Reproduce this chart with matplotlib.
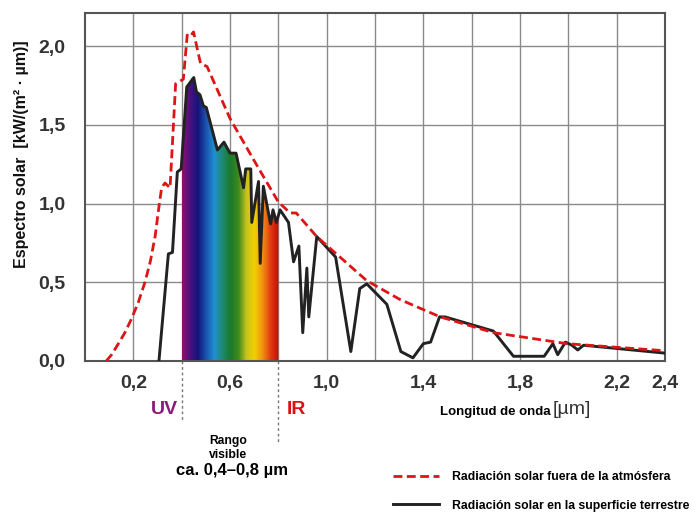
import numpy as np
import matplotlib
matplotlib.use("Agg")
import matplotlib.pyplot as plt
from matplotlib.colors import LinearSegmentedColormap

# ---- data ----
wl_space = [0.088, 0.110, 0.138, 0.165, 0.193, 0.220, 0.248, 0.270, 0.290, 0.306, 0.317,
            0.331, 0.352, 0.375, 0.407, 0.423, 0.435, 0.449, 0.478, 0.505, 0.600,
            0.697, 0.800, 0.849, 0.874, 0.959, 1.166, 1.304, 1.470, 1.690, 1.995, 2.400]
val_space = [0.0, 0.04, 0.11, 0.18, 0.27, 0.37, 0.50, 0.63, 0.79, 0.98, 1.10,
             1.13, 1.10, 1.76, 1.79, 2.07, 2.06, 2.09, 1.89, 1.87, 1.54,
             1.28, 1.01, 0.94, 0.94, 0.79, 0.51, 0.39, 0.28, 0.18, 0.11, 0.065]

wl_ground = [0.306, 0.345, 0.362, 0.382, 0.398, 0.421, 0.450, 0.461, 0.476, 0.490,
             0.502, 0.548, 0.575, 0.600, 0.625, 0.656, 0.665, 0.686, 0.690, 0.718,
             0.725, 0.738, 0.768, 0.778, 0.792, 0.807, 0.842, 0.863, 0.885, 0.901,
             0.918, 0.926, 0.959, 1.037, 1.100, 1.137, 1.166, 1.249, 1.307, 1.357,
             1.400, 1.430, 1.467, 1.490, 1.690, 1.773, 1.900, 1.936, 1.956, 1.988,
             2.015, 2.039, 2.063, 2.400]
val_ground = [0.0, 0.68, 0.69, 1.20, 1.22, 1.74, 1.80, 1.71, 1.69, 1.62,
              1.61, 1.34, 1.39, 1.32, 1.32, 1.10, 1.22, 1.22, 0.88, 1.14,
              0.62, 1.11, 0.87, 0.96, 0.88, 0.96, 0.88, 0.63, 0.73, 0.18,
              0.59, 0.28, 0.79, 0.66, 0.06, 0.46, 0.49, 0.36, 0.06, 0.02,
              0.11, 0.12, 0.28, 0.28, 0.19, 0.03, 0.03, 0.11, 0.04, 0.12,
              0.10, 0.07, 0.10, 0.05]

xtick_pos = [0.2, 0.6, 1.0, 1.4, 1.8, 2.2, 2.4]
xtick_lab = ["0,2", "0,6", "1,0", "1,4", "1,8", "2,2", "2,4"]
ytick_pos = [0.0, 0.5, 1.0, 1.5, 2.0]
ytick_lab = ["0,0", "0,5", "1,0", "1,5", "2,0"]
visible_range = (0.4, 0.8)

spec_colors = ["#8c1070", "#4a1080", "#14157a", "#1a55b0", "#2090d2", "#1e8a70",
               "#1a7a2c", "#3f8a1e", "#c8c41c", "#f2d000", "#f09010", "#e03a10", "#c80a0a"]

FONT = ["Liberation Sans", "DejaVu Sans"]
plt.rcParams['font.family'] = FONT

fig = plt.figure(figsize=(7.0, 5.12), dpi=100)
ax = fig.add_axes([85/700, 1-361/512, 580/700, 348/512])
ax.set_xlim(0, 2.4)
ax.set_ylim(0, 2.21)

# grid
for gx in np.arange(0.2, 2.4, 0.2):
    ax.axvline(gx, color="#8a8a8a", lw=1.0, zorder=1)
for gy in [0.5, 1.0, 1.5, 2.0]:
    ax.axhline(gy, color="#8a8a8a", lw=1.0, zorder=1)

# visible spectrum gradient clipped under the ground curve
cmap = LinearSegmentedColormap.from_list("spec", spec_colors)
xs = np.linspace(visible_range[0], visible_range[1], 200)
ys = np.interp(xs, wl_ground, val_ground)
poly = ax.fill_between(xs, 0, ys, color="none", lw=0)
grad = np.linspace(0, 1, 256).reshape(1, -1)
im = ax.imshow(grad, cmap=cmap, aspect="auto",
               extent=[visible_range[0], visible_range[1], 0, 2.21], zorder=2)
im.set_clip_path(poly.get_paths()[0], transform=ax.transData)
ax.set_xlim(0, 2.4)
ax.set_ylim(0, 2.21)

# curves
ax.plot(wl_ground, val_ground, color="#222222", lw=2.1, zorder=3,
        label="Radiación solar en la superficie terrestre")
ax.plot(wl_space, val_space, color="#dd1515", lw=2.0, ls=(0, (3.2, 1.6)), zorder=4,
        label="Radiación solar fuera de la atmósfera")

for s in ax.spines.values():
    s.set_color("#555555")
    s.set_linewidth(1.5)

ax.set_xticks(xtick_pos)
ax.set_xticklabels(xtick_lab, fontsize=14, fontweight="bold", color="#333333")
ax.set_yticks(ytick_pos)
ax.set_yticklabels(ytick_lab, fontsize=14, fontweight="bold", color="#333333")
ax.tick_params(axis="x", length=0, pad=10)
ax.tick_params(axis="y", length=0, pad=14)

ax.set_ylabel("Espectro solar  [kW/(m² · µm)]", fontsize=11.5, fontweight="bold",
              color="#111111", va="center")
ax.yaxis.set_label_coords(-63/580, 0.595)

# dotted separators below the axis
for vx, ylo in [(visible_range[0], -0.38), (visible_range[1], -0.53)]:
    ax.plot([vx, vx], [0, ylo], color="#777777", lw=1.0, ls=(0, (2, 2)),
            clip_on=False, zorder=0)

ax.text(0.33, -0.31, "UV", color="#8b1a7a", fontsize=14, fontweight="bold",
        ha="center", va="center", clip_on=False)
ax.text(0.875, -0.31, "IR", color="#dd1111", fontsize=14, fontweight="bold",
        ha="center", va="center", clip_on=False)
fig.text(440/700, 1-412/512, "Longitud de onda", fontsize=9.5, fontweight="bold",
         ha="left", va="center")
fig.text(553/700, 1-410/512, "[µm]", fontsize=14, color="#333333",
         ha="left", va="center")
fig.text(228/700, 1-448/512, "Rango\nvisible", fontsize=8.7, fontweight="bold",
         ha="center", va="center", linespacing=1.25)
fig.text(232/700, 1-471/512, "ca. 0,4–0,8 µm", fontsize=12, fontweight="bold",
         ha="center", va="center")

# legend
handles, labels = ax.get_legend_handles_labels()
order = [1, 0]
fig.legend([handles[i] for i in order], [labels[i] for i in order],
           loc="upper left", bbox_to_anchor=(382/700, 1-460/512),
           frameon=False, handlelength=3.8, handletextpad=1.0,
           labelspacing=1.35, prop={"family": FONT, "weight": "bold", "size": 8.8})

fig.savefig("out.png", dpi=100, facecolor="white")
